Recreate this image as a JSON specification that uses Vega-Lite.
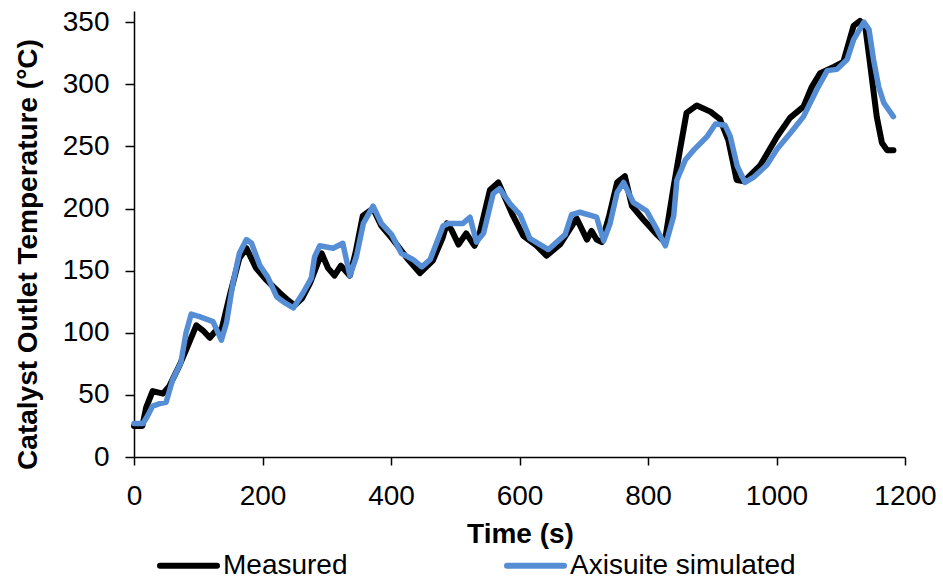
{
  "$schema": "https://vega.github.io/schema/vega-lite/v6.json",
  "width": 771,
  "height": 446,
  "autosize": {"type": "none"},
  "padding": {"left": 134, "top": 11, "right": 38, "bottom": 120},
  "background": "white",
  "config": {"font": "Liberation Sans", "view": {"stroke": null}},
  "datasets": {
    "measured": [
      {"time":0,"temp":25},{"time":13,"temp":25},{"time":19,"temp":40},{"time":29,"temp":53},{"time":45,"temp":51},{"time":55,"temp":57},{"time":71,"temp":74},{"time":81,"temp":86},{"time":97,"temp":106},{"time":107,"temp":102},{"time":118,"temp":96},{"time":128,"temp":102},{"time":136,"temp":102},{"time":149,"temp":130},{"time":164,"temp":160},{"time":175,"temp":168},{"time":190,"temp":152},{"time":205,"temp":143},{"time":227,"temp":132},{"time":238,"temp":127},{"time":250,"temp":122},{"time":262,"temp":128},{"time":274,"temp":140},{"time":292,"temp":164},{"time":302,"temp":152},{"time":312,"temp":146},{"time":322,"temp":154},{"time":336,"temp":146},{"time":345,"temp":165},{"time":356,"temp":194},{"time":372,"temp":200},{"time":385,"temp":186},{"time":403,"temp":175},{"time":425,"temp":160},{"time":445,"temp":148},{"time":465,"temp":158},{"time":480,"temp":176},{"time":487,"temp":188},{"time":494,"temp":183},{"time":505,"temp":171},{"time":517,"temp":180},{"time":530,"temp":170},{"time":537,"temp":178},{"time":554,"temp":215},{"time":567,"temp":221},{"time":590,"temp":194},{"time":606,"temp":178},{"time":627,"temp":170},{"time":642,"temp":162},{"time":663,"temp":171},{"time":689,"temp":192},{"time":705,"temp":175},{"time":712,"temp":182},{"time":720,"temp":175},{"time":728,"temp":173},{"time":740,"temp":195},{"time":752,"temp":221},{"time":764,"temp":226},{"time":775,"temp":202},{"time":793,"temp":191},{"time":814,"temp":179},{"time":826,"temp":173},{"time":840,"temp":218},{"time":850,"temp":248},{"time":860,"temp":277},{"time":876,"temp":283},{"time":897,"temp":278},{"time":912,"temp":272},{"time":925,"temp":255},{"time":938,"temp":223},{"time":950,"temp":222},{"time":975,"temp":235},{"time":1001,"temp":258},{"time":1021,"temp":273},{"time":1042,"temp":282},{"time":1055,"temp":298},{"time":1068,"temp":309},{"time":1089,"temp":314},{"time":1104,"temp":318},{"time":1120,"temp":347},{"time":1130,"temp":351},{"time":1138,"temp":347},{"time":1146,"temp":315},{"time":1156,"temp":274},{"time":1164,"temp":253},{"time":1172,"temp":247},{"time":1182,"temp":247}
    ],
    "simulated": [
      {"time":0,"temp":27},{"time":14,"temp":27},{"time":21,"temp":33},{"time":29,"temp":41},{"time":40,"temp":43},{"time":50,"temp":44},{"time":60,"temp":62},{"time":73,"temp":76},{"time":81,"temp":100},{"time":89,"temp":115},{"time":102,"temp":113},{"time":123,"temp":109},{"time":136,"temp":94},{"time":144,"temp":108},{"time":154,"temp":140},{"time":164,"temp":164},{"time":175,"temp":175},{"time":183,"temp":172},{"time":196,"temp":154},{"time":208,"temp":145},{"time":222,"temp":129},{"time":235,"temp":124},{"time":248,"temp":120},{"time":263,"temp":132},{"time":276,"temp":144},{"time":281,"temp":161},{"time":289,"temp":170},{"time":310,"temp":168},{"time":325,"temp":172},{"time":336,"temp":146},{"time":346,"temp":161},{"time":357,"temp":188},{"time":372,"temp":202},{"time":385,"temp":188},{"time":401,"temp":179},{"time":416,"temp":164},{"time":434,"temp":159},{"time":448,"temp":153},{"time":461,"temp":159},{"time":481,"temp":186},{"time":489,"temp":188},{"time":512,"temp":188},{"time":523,"temp":193},{"time":533,"temp":173},{"time":544,"temp":180},{"time":559,"temp":212},{"time":569,"temp":216},{"time":585,"temp":204},{"time":601,"temp":195},{"time":616,"temp":176},{"time":632,"temp":171},{"time":645,"temp":167},{"time":671,"temp":179},{"time":681,"temp":195},{"time":694,"temp":197},{"time":720,"temp":193},{"time":731,"temp":174},{"time":741,"temp":188},{"time":752,"temp":213},{"time":762,"temp":221},{"time":777,"temp":205},{"time":798,"temp":198},{"time":814,"temp":183},{"time":827,"temp":170},{"time":840,"temp":194},{"time":845,"temp":223},{"time":858,"temp":239},{"time":871,"temp":247},{"time":892,"temp":258},{"time":905,"temp":268},{"time":920,"temp":267},{"time":928,"temp":258},{"time":939,"temp":234},{"time":951,"temp":221},{"time":964,"temp":225},{"time":985,"temp":235},{"time":1001,"temp":248},{"time":1022,"temp":261},{"time":1042,"temp":274},{"time":1063,"temp":296},{"time":1079,"temp":311},{"time":1094,"temp":312},{"time":1110,"temp":320},{"time":1120,"temp":336},{"time":1136,"temp":350},{"time":1144,"temp":344},{"time":1151,"temp":320},{"time":1159,"temp":298},{"time":1167,"temp":285},{"time":1182,"temp":274}
    ]
  },
  "encoding": {
    "x": {
      "field": "time", "type": "quantitative",
      "scale": {"domain": [0, 1200], "nice": false, "zero": false},
      "axis": {
        "values": [0, 200, 400, 600, 800, 1000, 1200],
        "format": "d", "labelFlush": false, "labelOverlap": false,
        "grid": false,
        "domainColor": "#000000", "domainWidth": 1.5,
        "tickColor": "#000000", "tickWidth": 1.5, "tickSize": 8,
        "labelFontSize": 28, "labelColor": "#000000", "labelPadding": 17,
        "labelFont": "Liberation Sans",
        "title": "Time (s)", "titleFontSize": 28, "titleFontWeight": "bold",
        "titleColor": "#000000", "titleFont": "Liberation Sans",
        "titleBaseline": "alphabetic", "titleY": 85, "titleX": 386, "titleAlign": "center"
      }
    },
    "y": {
      "field": "temp", "type": "quantitative",
      "scale": {"domain": [0, 359], "nice": false},
      "axis": {
        "values": [0, 50, 100, 150, 200, 250, 300, 350],
        "format": "d", "labelFlush": false, "labelOverlap": false,
        "grid": false,
        "domainColor": "#000000", "domainWidth": 1.5,
        "tickColor": "#000000", "tickWidth": 1.5, "tickSize": 9,
        "labelFontSize": 28, "labelColor": "#000000", "labelPadding": 16,
        "labelFont": "Liberation Sans",
        "title": "Catalyst Outlet Temperature (°C)", "titleFontSize": 28, "titleFontWeight": "bold",
        "titleColor": "#000000", "titleFont": "Liberation Sans",
        "titleAngle": 270, "titleBaseline": "alphabetic", "titleAlign": "center",
        "titleX": -98, "titleY": 243
      }
    },
    "color": {
      "field": "series", "type": "nominal",
      "scale": {"domain": ["Measured", "Axisuite simulated"], "range": ["#000000", "#558ED5"]},
      "legend": {
        "orient": "none", "legendX": 23, "legendY": 523, "direction": "horizontal",
        "title": null, "padding": 0,
        "symbolType": "stroke", "symbolSize": 3249, "symbolStrokeWidth": 6,
        "labelFontSize": 28, "labelColor": "#000000", "labelFont": "Liberation Sans",
        "labelOffset": 3, "labelLimit": 400, "columnPadding": 147,
        "encode": {"symbols": {"update": {"strokeCap": {"value": "round"}}}}
      }
    }
  },
  "layer": [
    {
      "data": {"name": "measured"},
      "transform": [{"calculate": "'Measured'", "as": "series"}],
      "mark": {"type": "line", "strokeWidth": 6, "strokeJoin": "round", "strokeCap": "round"}
    },
    {
      "data": {"name": "simulated"},
      "transform": [{"calculate": "'Axisuite simulated'", "as": "series"}],
      "mark": {"type": "line", "strokeWidth": 5.5, "strokeJoin": "round", "strokeCap": "round"}
    }
  ]
}
